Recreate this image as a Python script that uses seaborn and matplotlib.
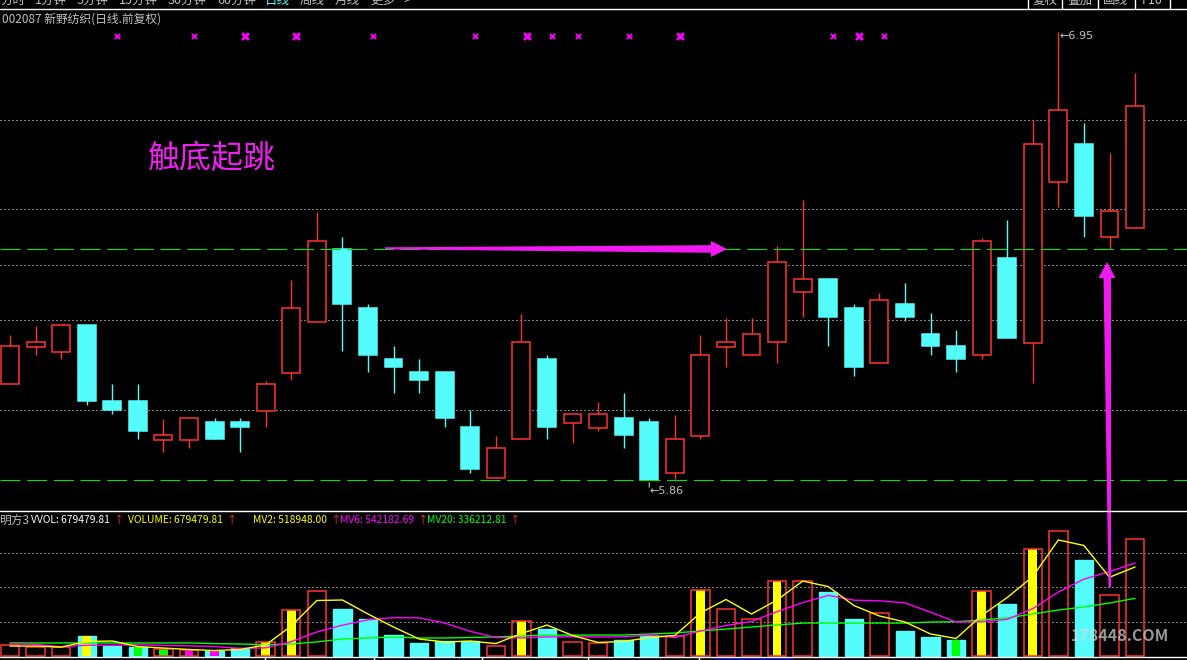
import matplotlib
matplotlib.use("Agg")
import matplotlib.pyplot as plt
import matplotlib.transforms as mtransforms
from matplotlib.patches import Polygon, Rectangle
import numpy as np
import pandas as pd
import seaborn as sns

# ---------------- data ----------------
days = list(range(45))
open_p = [6.094, 6.184, 6.172, 6.238, 6.053, 6.053, 5.958, 5.958, 6.001, 6.001,
          6.028, 6.121, 6.245, 6.423, 6.280, 6.155, 6.123, 6.123, 5.989, 5.865,
          5.960, 6.155, 5.999, 5.987, 6.011, 6.001, 5.877, 5.967, 6.184, 6.165,
          6.197, 6.319, 6.350, 6.280, 6.145, 6.289, 6.216, 6.187, 6.165, 6.401,
          6.194, 6.587, 6.680, 6.453, 6.475]
high_p = [6.214, 6.236, 6.238, 6.238, 6.094, 6.094, 6.009, 6.011, 6.011, 6.011,
          6.101, 6.348, 6.514, 6.453, 6.289, 6.187, 6.155, 6.123, 6.031, 5.967,
          6.265, 6.165, 6.021, 6.050, 6.072, 6.011, 6.019, 6.214, 6.255, 6.255,
          6.431, 6.543, 6.350, 6.289, 6.316, 6.340, 6.267, 6.226, 6.450, 6.494,
          6.738, 6.953, 6.731, 6.658, 6.853]
low_p = [6.094, 6.165, 6.155, 6.043, 6.021, 5.960, 5.928, 5.938, 5.960, 5.928,
         5.989, 6.104, 6.245, 6.175, 6.123, 6.072, 6.072, 5.989, 5.877, 5.865,
         5.960, 5.960, 5.950, 5.980, 5.938, 5.860, 5.862, 5.960, 6.136, 6.165,
         6.145, 6.258, 6.187, 6.114, 6.145, 6.248, 6.165, 6.123, 6.155, 6.206,
         6.097, 6.526, 6.453, 6.423, 6.475]
close_p = [6.187, 6.197, 6.238, 6.053, 6.031, 5.980, 5.970, 6.011, 5.960, 5.989,
           6.094, 6.280, 6.443, 6.289, 6.165, 6.136, 6.104, 6.011, 5.887, 5.938,
           6.197, 5.989, 6.021, 6.021, 5.970, 5.860, 5.960, 6.165, 6.197, 6.216,
           6.392, 6.350, 6.258, 6.136, 6.299, 6.258, 6.187, 6.155, 6.443, 6.206,
           6.680, 6.762, 6.504, 6.516, 6.772]
volume = [64000, 52000, 52000, 117000, 58000, 52000, 41000, 35000, 29000, 47000,
          82000, 268000, 379000, 274000, 216000, 122000, 76000, 87000, 87000, 58000,
          204000, 157000, 82000, 76000, 93000, 122000, 117000, 385000, 274000, 216000,
          437000, 437000, 373000, 216000, 251000, 146000, 111000, 93000, 379000, 303000,
          624000, 729000, 560000, 358416, 679479.81]
mv2 = [58000, 58000, 52000, 84500, 87500, 55000, 46500, 38000, 32000, 38000,
       64500, 175000, 323500, 326500, 245000, 169000, 99000, 81500, 87000, 72500,
       131000, 180500, 119500, 79000, 84500, 107500, 119500, 251000, 329500, 245000,
       326500, 437000, 405000, 294500, 233500, 198500, 128500, 102000, 236000, 341000,
       463500, 676500, 644500, 459200, 518948.00]
mv6 = [70000, 68000, 54000, 63000, 63000, 65800, 62000, 59200, 55300, 43700,
       47700, 83700, 140000, 179800, 211000, 223500, 222500, 192300, 143700, 107700,
       105700, 111500, 112500, 110700, 111700, 122300, 107800, 145800, 177800, 201200,
       258500, 311000, 353700, 325500, 321700, 310000, 255700, 198300, 199300, 213800,
       276000, 373200, 448000, 492200, 542182.69]
mv20 = [76000, 76000, 76000, 76000, 76000, 76000, 76000, 76000, 72000, 70000,
        66000, 70000, 82000, 99000, 105000, 111000, 105000, 105000, 108000, 111000,
        117000, 122000, 122000, 122000, 122000, 128000, 134000, 146000, 157000, 169000,
        181000, 192000, 192000, 192000, 192000, 192000, 198000, 200000, 210000, 222000,
        245000, 268000, 286000, 309000, 336212.81]
vol_flag = ['', '', '', 'Y', '', 'G', 'G', 'M', 'M', '',
            'Y', 'Y', '', '', '', '', '', '', '', '',
            'Y', '', '', '', '', '', '', 'Y', '', '',
            'Y', '', '', '', '', '', '', 'G', 'Y', '',
            'Y', '', '', '', '']
signal_days = [4, 7, 9, 11, 14, 18, 20, 21, 22, 24, 26, 32, 33, 34]
signal_big = [9, 11, 20, 26, 33]
grid_prices = [6.738, 6.521, 6.384, 6.250, 6.031]
dash_prices = [5.86, 6.423]
vol_grid = [200000, 400000, 600000]
low_label, high_label = "5.86", "6.95"

df = pd.DataFrame(dict(day=days, open=open_p, high=high_p, low=low_p, close=close_p,
                       volume=volume, mv2=mv2, mv6=mv6, mv20=mv20, flag=vol_flag))

# ---------------- style ----------------
sns.set_style("dark", rc={"axes.facecolor": "black", "figure.facecolor": "black"})
plt.rcParams["font.family"] = ["Noto Sans CJK SC", "DejaVu Sans"]

RED = "#ff3232"
CYAN = "#54fcfc"
YEL = "#ffff00"
MAG = "#ff00ff"
GRN = "#00e600"
GRAY = "#c0c0c0"
NARROW = ["Liberation Sans Narrow", "Noto Sans CJK SC", "DejaVu Sans"]

W, H = 1187, 660
fig = plt.figure(figsize=(W / 100, H / 100), dpi=100, facecolor="black")


def px_axes(top, bottom):
    a = fig.add_axes([0, (H - bottom) / H, 1, (bottom - top) / H])
    a.set_facecolor("black")
    return a


ax = px_axes(10, 511)
axv = px_axes(512, 657)
step = 25.57
for a in (ax, axv):
    a.set_xlim(-10 / step, (W - 10) / step)
ax.set_ylim(5.7844, 7.0063)
axv.set_ylim(-5831, 839664)

up = (df.close >= df.open).values
col = np.where(up, RED, CYAN)

# grid lines
for p in grid_prices:
    ax.axhline(p, color="white", lw=0.72, ls=(0, (1, 3)), zorder=1)
for p in dash_prices:
    ax.axhline(p, color=GRN, lw=0.8, ls=(0, (18, 6)), zorder=5)
for v in vol_grid:
    axv.axhline(v, color="white", lw=0.72, ls=(0, (1, 3)), zorder=0.5)

# candles
ax.vlines(df.day, df.low, df.high, colors=col, lw=1.0, zorder=2)
body_lo = np.minimum(df.open, df.close)
body_h = np.maximum(np.abs(df.close - df.open), 0.004)
ax.bar(df.day, body_h, bottom=body_lo, width=0.7,
       color=np.where(up, "black", CYAN), edgecolor=col, linewidth=1.1, zorder=3)

# signal markers
blend = mtransforms.blended_transform_factory(ax.transData, ax.transAxes)
small = [d for d in signal_days if d not in signal_big]
ax.scatter(np.array(small) + 0.2, [0.948] * len(small), transform=blend,
           marker="x", s=14, linewidths=1.4, color=MAG, zorder=6)
ax.scatter(np.array(signal_big) + 0.2, [0.948] * len(signal_big), transform=blend,
           marker="x", s=24, linewidths=2.0, color=MAG, zorder=6)

# low / high labels
ax.annotate("", xy=(25, 5.86), xytext=(0, -10), textcoords="offset pixels",
            arrowprops=dict(arrowstyle="-", color=GRAY, lw=0.8))
ax.annotate("←" + low_label, xy=(25, 5.86), xytext=(0, -11), textcoords="offset pixels",
            color=GRAY, fontsize=8, ha="left", va="center", family=["DejaVu Sans"])
ax.annotate("←" + high_label, xy=(41, 6.953), xytext=(1, -4), textcoords="offset pixels",
            color=GRAY, fontsize=8, ha="left", va="center", family=["DejaVu Sans"])

# volume bars
down = df[~up]
ups = df[up]
axv.bar(down.day, down.volume, width=0.72, color=CYAN, edgecolor=CYAN, lw=1.0, zorder=1)
fmap = {"Y": YEL, "G": "#00ff00", "M": MAG}
sub = df[df.flag != ""]
axv.bar(sub.day, sub.volume, width=0.34, color=sub.flag.map(fmap).tolist(), lw=0, zorder=2)
axv.bar(ups.day, ups.volume, width=0.72, facecolor="none", edgecolor=RED, lw=1.1, zorder=3)

sns.lineplot(data=df, x="day", y="mv20", ax=axv, color="#00ff00", lw=1.0, zorder=4)
sns.lineplot(data=df, x="day", y="mv6", ax=axv, color=MAG, lw=1.0, zorder=5)
sns.lineplot(data=df, x="day", y="mv2", ax=axv, color=YEL, lw=1.0, zorder=6)

for a in (ax, axv):
    a.set_axis_off()

# ---------------- overlay (frame, menu, labels, arrows) ----------------
ov = fig.add_axes([0, 0, 1, 1], zorder=10)
ov.set_xlim(0, W)
ov.set_ylim(H, 0)
ov.set_axis_off()

for yy in (9, 511, 657):
    ov.plot([0, W], [yy, yy], color="white", lw=1.0)
for xx in (1028, 1062, 1098, 1135, 1170):
    ov.plot([xx, xx], [0, 9], color="white", lw=1.0)
for xx in (265, 374, 482, 588, 699):
    ov.plot([xx, xx], [657, 660], color="white", lw=1.0)
ov.add_patch(Rectangle((715, 658), 78, 2, color="#000090", lw=0))

menu = [("分时", 0), ("1分钟", 35), ("5分钟", 77), ("15分钟", 119), ("30分钟", 168),
        ("60分钟", 217), ("日线", 265), ("周线", 300), ("月线", 335), ("更多", 370), (">", 403)]
for t, x in menu:
    ov.text(x, 0.5, t, color=CYAN if t == "日线" else GRAY, fontsize=9,
            ha="left", va="center")
for t, x in [("复权", 1033), ("叠加", 1067), ("画线", 1103), ("F10", 1142)]:
    ov.text(x, 0.5, t, color=GRAY, fontsize=9, ha="left", va="center")

ov.text(2, 19, "002087 新野纺织(日线.前复权)", color=GRAY, fontsize=8.5,
        ha="left", va="center")

ov.text(-1, 520, "明方3", color=GRAY, fontsize=8.5, ha="left", va="center")
hdr = [("VVOL: 679479.81", 31, "white"), ("↑", 113, RED),
       ("VOLUME: 679479.81", 128, YEL), ("↑", 226, RED),
       ("MV2: 518948.00", 253, YEL), ("↑", 330, RED),
       ("MV6: 542182.69", 340, MAG), ("↑", 417, RED),
       ("MV20: 336212.81", 427, "#00ff00"), ("↑", 509, RED)]
for t, x, c in hdr:
    ov.text(x, 520, t, color=c, fontsize=7.4, ha="left", va="center", family=NARROW)

ov.text(212, 159, "触底起跳", color="#f020f0", fontsize=23, ha="center", va="center")

ov.text(1120, 636, "178448.COM", color="#d8d8d8", alpha=0.7, fontsize=11.5,
        fontweight="bold", ha="center", va="center", family=NARROW)

ARW = "#f01af0"
ov.add_patch(Polygon([(385, 247.3), (711, 245.2), (711, 241), (727, 249), (711, 257),
                      (711, 252.8), (385, 249.3)], closed=True, color=ARW, lw=0))
ov.add_patch(Polygon([(1107, 262), (1115.5, 278), (1111, 278), (1111, 587), (1108.5, 587),
                      (1103.5, 278), (1098.5, 278)], closed=True, color=ARW, lw=0))

fig.savefig("out.png", dpi=100, facecolor="black")
